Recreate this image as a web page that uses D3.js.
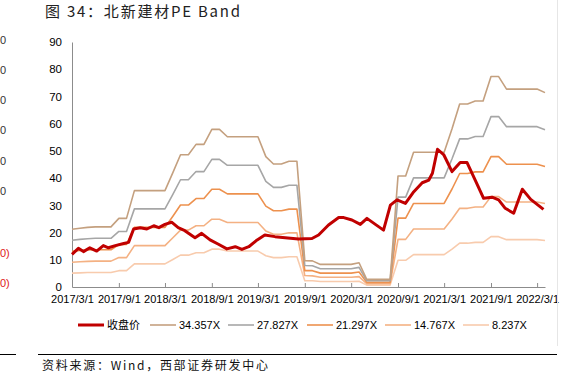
<!DOCTYPE html>
<html lang="zh">
<head>
<meta charset="utf-8">
<title>北新建材 PE Band</title>
<script src="https://d3js.org/d3.v7.min.js"></script>
<style>
  body { margin: 0; background: #fff; }
  svg { display: block; }
  .axis text { font-family: "Liberation Sans", Arial, sans-serif; font-size: 11.5px; fill: #000; }
  .axis.xaxis text { font-size: 11px; }
  .axis path { stroke: #8c8c8c; }
  .axis line { stroke: #8c8c8c; }
  .legend text { font-family: "Liberation Sans", "Noto Sans CJK SC", sans-serif; font-size: 11px; fill: #000; }
</style>
</head>
<body>
<svg width="584" height="378"></svg>
<script>
// monthly band values, 2017/3 .. 2022/4
const band34 = [21.2,21.6,21.9,22.1,22.1,22.1,25.2,25.2,35.4,35.4,35.4,35.4,35.4,42.0,48.6,48.6,52.4,52.4,57.9,57.9,55.2,55.2,55.2,55.2,55.2,47.9,45.2,45.2,46.2,46.2,9.7,9.6,8.3,8.3,8.3,8.3,8.3,8.9,2.8,2.8,2.8,2.8,40.8,40.8,49.5,49.5,49.5,49.5,49.5,58.1,67.2,67.2,68.3,68.3,77.3,77.3,72.7,72.7,72.7,72.7,72.7,71.4];
const band27 = [17.2,17.5,17.7,17.9,17.9,17.9,20.4,20.4,28.7,28.7,28.7,28.7,28.7,34.0,39.4,39.4,42.4,42.4,46.9,46.9,44.7,44.7,44.7,44.7,44.7,38.8,36.6,36.6,37.4,37.4,7.9,7.8,6.7,6.7,6.7,6.7,6.7,7.2,2.3,2.3,2.3,2.3,33.0,33.0,40.1,40.1,40.1,40.1,40.1,47.1,54.4,54.4,55.3,55.3,62.6,62.6,58.9,58.9,58.9,58.9,58.9,57.8];
const band21 = [13.1,13.4,13.6,13.7,13.7,13.7,15.6,15.6,21.9,21.9,21.9,21.9,21.9,26.0,30.1,30.1,32.5,32.5,35.9,35.9,34.2,34.2,34.2,34.2,34.2,29.7,28.0,28.0,28.6,28.6,6.0,6.0,5.1,5.1,5.1,5.1,5.1,5.5,1.7,1.7,1.7,1.7,25.3,25.3,30.7,30.7,30.7,30.7,30.7,36.0,41.7,41.7,42.3,42.3,47.9,47.9,45.1,45.1,45.1,45.1,45.1,44.3];
const band14 = [9.1,9.3,9.4,9.5,9.5,9.5,10.8,10.8,15.2,15.2,15.2,15.2,15.2,18.1,20.9,20.9,22.5,22.5,24.9,24.9,23.7,23.7,23.7,23.7,23.7,20.6,19.4,19.4,19.9,19.9,4.2,4.1,3.6,3.6,3.6,3.6,3.6,3.8,1.2,1.2,1.2,1.2,17.5,17.5,21.3,21.3,21.3,21.3,21.3,25.0,28.9,28.9,29.4,29.4,33.2,33.2,31.2,31.2,31.2,31.2,31.2,30.7];
const band8 = [5.1,5.2,5.3,5.3,5.3,5.3,6.0,6.0,8.5,8.5,8.5,8.5,8.5,10.1,11.7,11.7,12.6,12.6,13.9,13.9,13.2,13.2,13.2,13.2,13.2,11.5,10.8,10.8,11.1,11.1,2.3,2.3,2.0,2.0,2.0,2.0,2.0,2.1,0.7,0.7,0.7,0.7,9.8,9.8,11.9,11.9,11.9,11.9,11.9,13.9,16.1,16.1,16.4,16.4,18.5,18.5,17.4,17.4,17.4,17.4,17.4,17.1];

// closing price
const closeDates = ["2017-03-01","2017-03-26","2017-04-15","2017-05-10","2017-06-06","2017-07-02","2017-07-22","2017-08-18","2017-09-20","2017-10-09","2017-10-29","2017-11-24","2017-12-20","2018-01-16","2018-02-05","2018-03-01","2018-03-27","2018-04-22","2018-05-18","2018-06-27","2018-07-23","2018-08-25","2018-09-27","2018-10-30","2018-12-02","2018-12-28","2019-01-24","2019-02-26","2019-03-28","2019-05-07","2019-06-16","2019-08-07","2019-09-29","2019-10-25","2019-12-03","2020-01-12","2020-02-01","2020-03-04","2020-04-06","2020-05-02","2020-06-04","2020-07-06","2020-08-02","2020-08-28","2020-09-30","2020-11-02","2020-12-05","2020-12-31","2021-01-14","2021-02-03","2021-02-28","2021-04-01","2021-05-03","2021-05-30","2021-07-01","2021-08-03","2021-09-05","2021-10-01","2021-10-27","2021-11-29","2022-01-02","2022-02-04","2022-03-26"];
const closeValues = [12.0,14.2,13.0,14.4,13.2,15.2,14.4,15.2,16.0,16.4,21.3,21.8,21.3,22.5,21.8,23.0,23.8,21.8,20.7,18.1,19.7,17.3,15.7,14.0,14.8,13.8,14.8,17.3,19.1,18.5,18.1,17.6,17.8,19.1,22.8,25.5,25.5,24.6,23.0,25.2,23.0,20.9,30.1,32.0,30.7,35.0,38.3,39.3,41.8,50.6,48.5,42.4,45.7,45.7,39.3,32.6,33.0,32.0,28.9,27.1,35.9,32.2,28.5];

const seriesNames = ["收盘价", "34.357X", "27.827X", "21.297X", "14.767X", "8.237X"];
const xTickLabels = ["2017/3/1","2017/9/1","2018/3/1","2018/9/1","2019/3/1","2019/9/1","2020/3/1","2020/9/1","2021/3/1","2021/9/1","2022/3/1"];
const yTickValues = [0,10,20,30,40,50,60,70,80,90];

const colors = ["#c00000", "#c4a07f", "#a6a6a6", "#ed914e", "#f4b183", "#f8cbad"];

const svg = d3.select("svg");
const parseDay = d3.timeParse("%Y-%m-%d");
const parseTick = d3.timeParse("%Y/%m/%d");

const months = d3.timeMonth.range(new Date(2017, 2, 1), new Date(2022, 4, 1));

const x = d3.scaleTime()
    .domain([new Date(2017, 2, 1), new Date(2022, 3, 1)])
    .range([72, 545]);
const y = d3.scaleLinear()
    .domain([0, 90])
    .range([287, 42]);

// leftover bits of the neighbouring chart at the page edge
const edge = svg.append("g")
    .attr("font-family", "Liberation Sans, Arial, sans-serif")
    .attr("font-size", "11px");
[40, 70, 100, 130, 161, 191].forEach(py => {
  edge.append("text").attr("x", 0).attr("y", py + 4)
      .attr("fill", "#333").text("0");
});
[253, 283].forEach(py => {
  edge.append("text").attr("x", 0).attr("y", py + 4)
      .attr("fill", "#e02020").text("0)");
});

// title
svg.append("text")
    .attr("x", 45).attr("y", 17)
    .attr("font-family", "Noto Sans CJK SC, sans-serif")
    .attr("font-size", "15px")
    .attr("fill", "#222")
    .attr("textLength", 195)
    .attr("lengthAdjust", "spacing")
    .text("图 34：北新建材PE Band");

// axes
svg.append("g")
    .attr("class", "axis xaxis")
    .attr("transform", "translate(0,287)")
    .call(d3.axisBottom(x)
        .tickValues(xTickLabels.map(parseTick))
        .tickFormat(d3.timeFormat("%Y/%-m/%-d"))
        .tickSizeInner(-4)
        .tickSizeOuter(0)
        .tickPadding(8));

svg.append("g")
    .attr("class", "axis")
    .attr("transform", "translate(72,0)")
    .call(d3.axisLeft(y)
        .tickValues(yTickValues)
        .tickSize(0)
        .tickPadding(10));

// band lines
const line = d3.line()
    .x(d => x(d[0]))
    .y(d => y(d[1]));

const bands = [band34, band27, band21, band14, band8];
bands.slice().reverse().forEach((vals, j) => {
  const k = bands.length - j;
  svg.append("path")
      .datum(months.map((m, i) => [m, vals[i]]))
      .attr("fill", "none")
      .attr("stroke", colors[k])
      .attr("stroke-width", 1.6)
      .attr("stroke-linejoin", "round")
      .attr("d", line);
});

svg.append("path")
    .datum(closeDates.map((d, i) => [parseDay(d), closeValues[i]]))
    .attr("fill", "none")
    .attr("stroke", colors[0])
    .attr("stroke-width", 3)
    .attr("stroke-linejoin", "round")
    .attr("d", line);

// legend
const legendX = [78, 150, 228, 307, 385, 463];
const legend = svg.append("g").attr("class", "legend");
seriesNames.forEach((name, i) => {
  legend.append("line")
      .attr("x1", legendX[i]).attr("x2", legendX[i] + 26)
      .attr("y1", 325).attr("y2", 325)
      .attr("stroke", colors[i])
      .attr("stroke-width", i === 0 ? 3 : 1.6);
  legend.append("text")
      .attr("x", legendX[i] + 29).attr("y", 329)
      .text(name);
});

// frame bits and source note
svg.append("line")
    .attr("x1", 557.5).attr("x2", 557.5).attr("y1", 0).attr("y2", 346)
    .attr("stroke", "#e6e6e6");
svg.append("line")
    .attr("x1", 0).attr("x2", 16).attr("y1", 354.5).attr("y2", 354.5)
    .attr("stroke", "#000");
svg.append("line")
    .attr("x1", 38).attr("x2", 557).attr("y1", 354.5).attr("y2", 354.5)
    .attr("stroke", "#000");
svg.append("text")
    .attr("x", 42).attr("y", 370)
    .attr("font-family", "Noto Sans CJK SC, sans-serif")
    .attr("font-size", "12px")
    .attr("fill", "#111")
    .attr("textLength", 226)
    .attr("lengthAdjust", "spacing")
    .text("资料来源：Wind，西部证券研发中心");
</script>
</body>
</html>
